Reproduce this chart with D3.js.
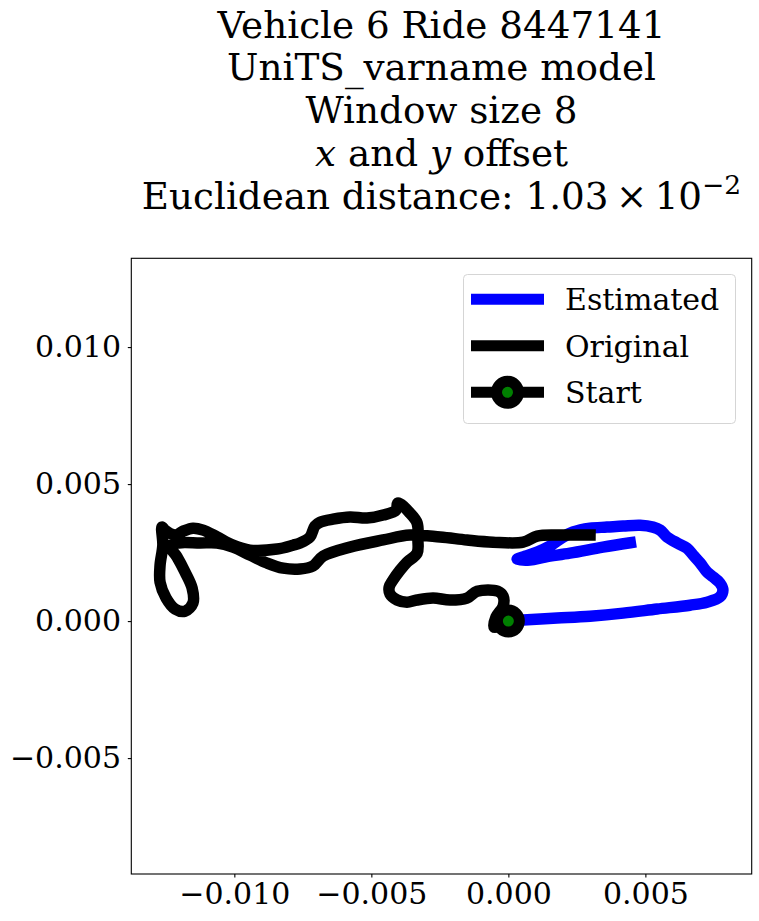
<!DOCTYPE html>
<html>
<head>
<meta charset="utf-8">
<script src="https://cdn.jsdelivr.net/npm/d3@7"></script>
<style>
  body { margin: 0; background: #fff; }
  text { font-family: "DejaVu Serif", serif; fill: #000; }
</style>
</head>
<body>
<svg id="chart" width="759" height="921"></svg>
<script>
// estimated trajectory (blue)
const estX = [0, 0.54e-3, 1.78e-3, 2.98e-3, 4.19e-3, 5.43e-3, 6.63e-3, 7.25e-3, 7.72e-3, 7.83e-3,
  7.72e-3, 7.47e-3, 7.25e-3, 7.00e-3, 6.74e-3, 6.52e-3, 6.16e-3, 5.79e-3, 5.54e-3, 5.28e-3,
  4.81e-3, 4.19e-3, 3.60e-3, 2.98e-3, 2.36e-3, 2.00e-3, 1.52e-3, 1.05e-3, 0.61e-3, 0.32e-3,
  0.79e-3, 1.34e-3, 2.25e-3, 3.45e-3, 4.45e-3];
const estY = [0, 0.04e-3, 0.11e-3, 0.18e-3, 0.29e-3, 0.44e-3, 0.58e-3, 0.69e-3, 0.88e-3, 1.13e-3,
  1.39e-3, 1.61e-3, 1.79e-3, 2.12e-3, 2.41e-3, 2.66e-3, 2.85e-3, 3.07e-3, 3.32e-3, 3.43e-3,
  3.50e-3, 3.47e-3, 3.43e-3, 3.39e-3, 3.25e-3, 3.07e-3, 2.74e-3, 2.52e-3, 2.37e-3, 2.26e-3,
  2.23e-3, 2.34e-3, 2.48e-3, 2.70e-3, 2.86e-3];

// original trajectory (black)
const origX = [0, -0.30e-3, -0.52e-3, -0.45e-3, -0.19e-3, -0.19e-3, -0.38e-3, -1.14e-3, -1.51e-3, -2.13e-3,
  -2.75e-3, -3.33e-3, -3.70e-3, -4.06e-3, -4.32e-3, -4.35e-3, -4.21e-3, -3.95e-3, -3.70e-3, -3.33e-3,
  -3.30e-3, -3.33e-3, -3.59e-3, -4.03e-3, -4.10e-3, -4.57e-3, -5.16e-3, -5.78e-3, -6.40e-3, -6.87e-3,
  -7.06e-3, -7.24e-3, -7.60e-3, -7.86e-3, -8.44e-3, -9.43e-3, -10.05e-3, -10.63e-3, -11.14e-3, -11.51e-3,
  -11.87e-3, -12.16e-3, -12.53e-3, -12.64e-3, -12.61e-3, -12.71e-3, -12.71e-3, -12.49e-3, -12.16e-3, -11.80e-3,
  -11.51e-3, -11.54e-3, -11.80e-3, -12.09e-3, -12.35e-3, -12.05e-3, -11.25e-3, -10.63e-3, -10.05e-3, -9.43e-3,
  -8.81e-3, -8.22e-3, -7.60e-3, -7.13e-3, -6.76e-3, -5.78e-3, -4.57e-3, -3.59e-3, -2.49e-3, -1.51e-3,
  -0.56e-3, 0.54e-3, 1.05e-3, 1.78e-3, 2.98e-3];
const origY = [0, -0.18e-3, -0.22e-3, 0.15e-3, 0.55e-3, 0.91e-3, 1.09e-3, 1.09e-3, 0.84e-3, 0.77e-3,
  0.84e-3, 0.77e-3, 0.69e-3, 0.77e-3, 0.99e-3, 1.24e-3, 1.50e-3, 1.86e-3, 2.15e-3, 2.48e-3,
  2.96e-3, 3.58e-3, 3.94e-3, 4.31e-3, 4.05e-3, 3.87e-3, 3.76e-3, 3.80e-3, 3.72e-3, 3.61e-3,
  3.47e-3, 3.07e-3, 2.85e-3, 2.77e-3, 2.63e-3, 2.59e-3, 2.77e-3, 3.07e-3, 3.32e-3, 3.39e-3,
  3.28e-3, 3.14e-3, 3.32e-3, 3.43e-3, 2.77e-3, 2.04e-3, 1.42e-3, 0.84e-3, 0.44e-3, 0.36e-3,
  0.66e-3, 1.20e-3, 1.79e-3, 2.34e-3, 2.74e-3, 2.85e-3, 2.85e-3, 2.85e-3, 2.70e-3, 2.41e-3,
  2.12e-3, 1.93e-3, 1.90e-3, 2.01e-3, 2.37e-3, 2.70e-3, 2.96e-3, 3.14e-3, 3.07e-3, 2.96e-3,
  2.88e-3, 2.88e-3, 3.10e-3, 3.14e-3, 3.14e-3];

const startPoint = [0, 0];

const xTicks = [-0.010, -0.005, 0.000, 0.005];
const yTicks = [-0.005, 0.000, 0.005, 0.010];
const xDomain = [-0.01376, 0.00888];
const yDomain = [-0.00923, 0.01324];

const legendLabels = ['Estimated', 'Original', 'Start'];
const titleLines = ['Vehicle 6 Ride 8447141', 'UniTS_varname model', 'Window size 8'];

const svg = d3.select('#chart');

const plotLeft = 131.3, plotRight = 751.7, plotTop = 258.3, plotBottom = 874;

const xScale = d3.scaleLinear().domain(xDomain).range([plotLeft, plotRight]);
const yScale = d3.scaleLinear().domain(yDomain).range([plotBottom, plotTop]);

// title
const title = svg.append('g').attr('text-anchor', 'middle').style('font-size', '37.3px');
const cx = (plotLeft + plotRight) / 2;
titleLines.forEach((t, i) => {
    title.append('text').attr('x', cx).attr('y', 37.5 + i * 42.8).text(t);
});
const l4 = title.append('text').attr('x', cx).attr('y', 37.5 + 3 * 42.8);
l4.append('tspan').style('font-style', 'italic').text('x');
l4.append('tspan').text(' and ');
l4.append('tspan').style('font-style', 'italic').text('y');
l4.append('tspan').text(' offset');
const l5 = title.append('text').attr('x', cx).attr('y', 37.5 + 4 * 42.8);
l5.append('tspan').text('Euclidean distance: 1.03\u2009\u00d7\u200910');
l5.append('tspan').attr('dy', -15).style('font-size', '26.5px').text('\u22122');

// frame
svg.append('rect')
    .attr('x', plotLeft).attr('y', plotTop)
    .attr('width', plotRight - plotLeft).attr('height', plotBottom - plotTop)
    .attr('fill', 'none').attr('stroke', '#000').attr('stroke-width', 1.1);

const fmt = d3.format('.3f');

const xAxis = svg.append('g')
    .attr('transform', `translate(0, ${plotBottom})`)
    .call(d3.axisBottom(xScale).tickValues(xTicks).tickFormat(fmt).tickSizeOuter(0).tickSize(3.5).tickPadding(5.2));
const yAxis = svg.append('g')
    .attr('transform', `translate(${plotLeft}, 0)`)
    .call(d3.axisLeft(yScale).tickValues(yTicks).tickFormat(fmt).tickSizeOuter(0).tickSize(3.5).tickPadding(6.8));

[xAxis, yAxis].forEach(a => {
    a.attr('font-family', null).attr('font-size', null);
    a.select('.domain').remove();
    a.selectAll('text').style('font-size', '30px').attr('fill', '#000');
    a.selectAll('line').attr('stroke', '#000').attr('stroke-width', 1.1);
});

// trajectories
const line = d3.line()
    .curve(d3.curveCatmullRom.alpha(0.5))
    .x(d => xScale(d[0]))
    .y(d => yScale(d[1]));

const est = estX.map((v, i) => [v, estY[i]]);
const orig = origX.map((v, i) => [v, origY[i]]);

svg.append('path')
    .datum(est)
    .attr('d', line)
    .attr('fill', 'none')
    .attr('stroke', '#0000ff')
    .attr('stroke-width', 11.5)
    .attr('stroke-linejoin', 'round')
    .attr('stroke-linecap', 'square');

svg.append('path')
    .datum(orig)
    .attr('d', line)
    .attr('fill', 'none')
    .attr('stroke', '#000')
    .attr('stroke-width', 11.5)
    .attr('stroke-linejoin', 'round')
    .attr('stroke-linecap', 'square');

svg.append('circle')
    .attr('cx', xScale(startPoint[0]))
    .attr('cy', yScale(startPoint[1]))
    .attr('r', 11)
    .attr('fill', '#008000')
    .attr('stroke', '#000')
    .attr('stroke-width', 11);

// legend
const legend = svg.append('g');
legend.append('rect')
    .attr('x', 463.5).attr('y', 274.5)
    .attr('width', 272).attr('height', 149)
    .attr('rx', 4)
    .attr('fill', '#fff').attr('fill-opacity', 0.8)
    .attr('stroke', '#d5d5d5').attr('stroke-width', 1);

const legendColors = ['#0000ff', '#000', '#000'];
legendLabels.forEach((lab, i) => {
    const y = 299.3 + i * 46.5;
    legend.append('line')
        .attr('x1', 471).attr('x2', 544)
        .attr('y1', y).attr('y2', y)
        .attr('stroke', legendColors[i])
        .attr('stroke-width', 11);
    if (lab === 'Start') {
        legend.append('circle')
            .attr('cx', 507.5).attr('cy', y)
            .attr('r', 11)
            .attr('fill', '#008000')
            .attr('stroke', '#000')
            .attr('stroke-width', 11);
    }
    legend.append('text')
        .attr('x', 565).attr('y', y + 11)
        .style('font-size', '30px')
        .text(lab);
});
</script>
</body>
</html>
